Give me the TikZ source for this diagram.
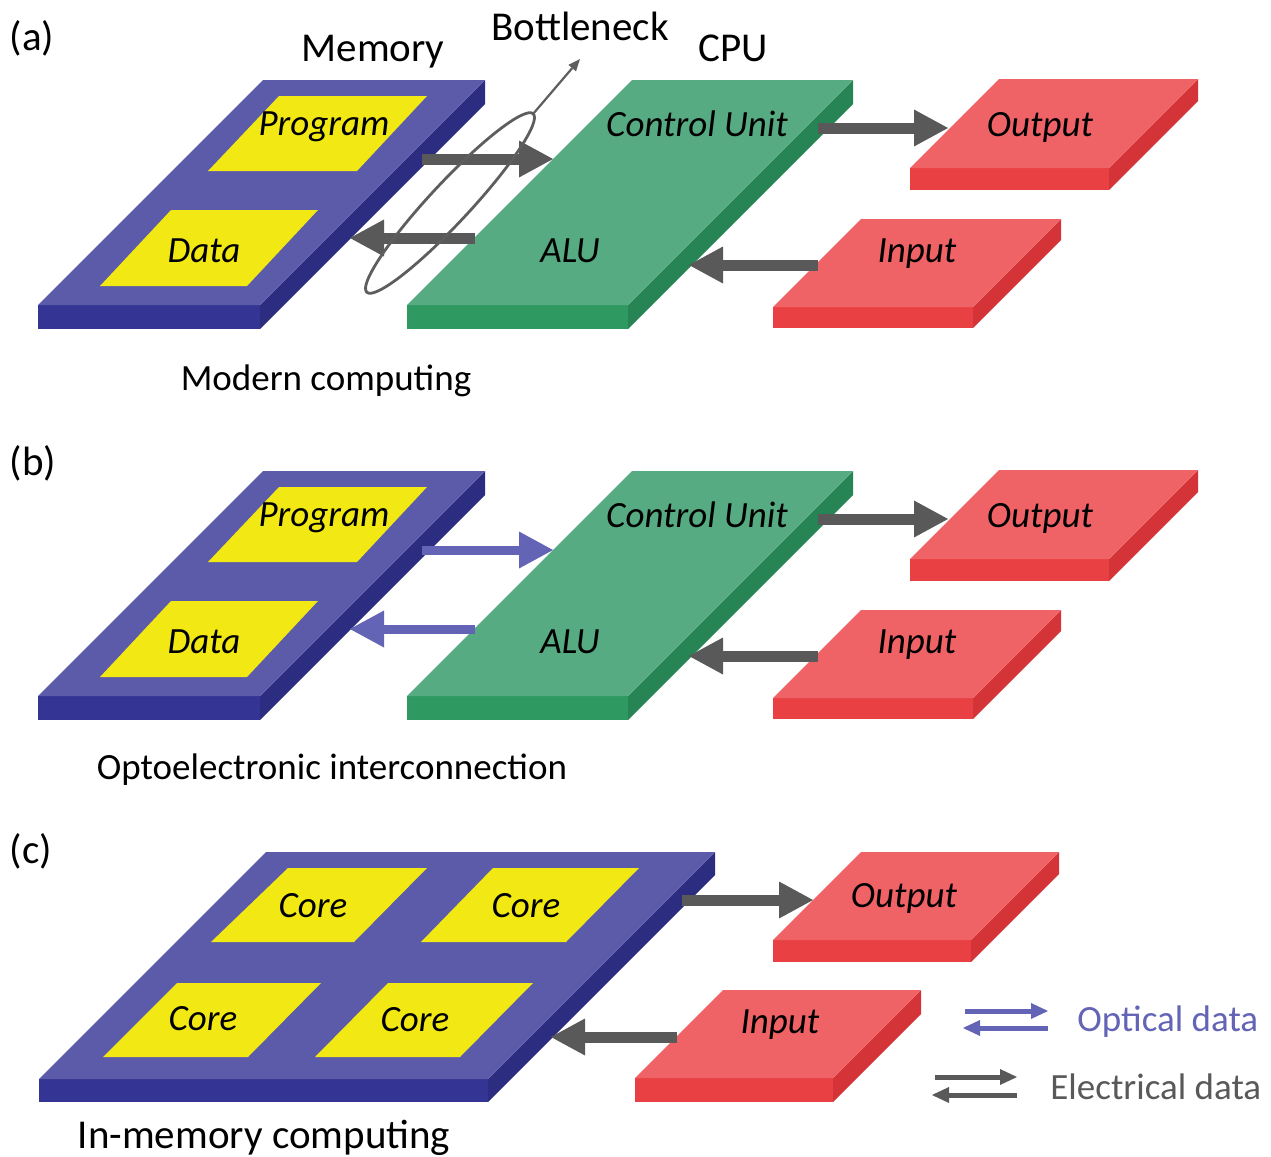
\documentclass[tikz,border=0pt]{standalone}
\usepackage{fontspec}
\setmainfont{Carlito}
\usetikzlibrary{arrows.meta}

\definecolor{memtop}{HTML}{5B5BA9}
\definecolor{memfront}{HTML}{343494}
\definecolor{memside}{HTML}{2C2C80}
\definecolor{padyellow}{HTML}{F2E914}
\definecolor{cputop}{HTML}{56AB82}
\definecolor{cpufront}{HTML}{2E9A62}
\definecolor{cpuside}{HTML}{268455}
\definecolor{iotop}{HTML}{EF6266}
\definecolor{iofront}{HTML}{E94043}
\definecolor{ioside}{HTML}{D43337}
\definecolor{elecgray}{HTML}{595959}
\definecolor{optblue}{HTML}{6464B6}
\definecolor{ringgray}{HTML}{5E5E5E}

\tikzset{
  lbl/.style={font=\fontsize{18.5}{22}\selectfont\itshape, anchor=base, inner sep=0pt},
  undertext/.style={font=\fontsize{18.5}{22}\selectfont, anchor=base, inner sep=0pt},
  heading/.style={font=\fontsize{20.5}{24}\selectfont, anchor=base, inner sep=0pt},
  tag/.style={font=\fontsize{20.5}{24}\selectfont, anchor=center, inner sep=0pt},
  bigarrow/.style={line width=5.5pt, -{Triangle[length=17pt,width=18.5pt,line width=0pt]}},
  elec/.style={bigarrow, color=elecgray},
  opt/.style={bigarrow, line width=4.5pt, color=optblue},
  smallarrow/.style={line width=2.5pt, -{Triangle[length=8.5pt,width=8pt,line width=0pt]}},
  elecsmall/.style={smallarrow, color=elecgray},
  optsmall/.style={smallarrow, color=optblue},
  ring/.style={draw=ringgray, line width=1.4pt},
}

% slab: front-left corner of the top face (#1,#2), width #3, depth #4,
% thickness #5, colour prefix #6 (top / front / side shades)
\newcommand\slab[6]{%
  \fill[#6front] (#1,#2) rectangle ++(#3,#5);
  \fill[#6side] (#1+#3,#2) -- ++(#4,-#4) -- ++(0,#5) -- ++(-#4,#4) -- cycle;
  \fill[#6top] (#1,#2) -- ++(#3,0) -- ++(#4,-#4) -- ++(-#3,0) -- cycle;
}

% yellow pad on a slab, given by its four corners
\newcommand\pad[8]{%
  \fill[padyellow] (#1,#2) -- (#3,#4) -- (#5,#6) -- (#7,#8) -- cycle;
}

% von Neumann layout: #1 name prefix, #2 vertical offset, #3 memory link style
\newcommand\vnpanel[3]{%
\begin{scope}[shift={(0,#2)}]
  \slab{38}{305}{222}{225}{24}{mem}
  \pad{208}{171}{357}{171}{427}{96}{279}{96}
  \pad{100}{286}{247}{286}{318}{210}{171}{210}
  \slab{407}{305}{221}{225}{24}{cpu}
  \slab{910}{168}{199}{89}{22}{io}
  \slab{773}{307}{200}{88}{21}{io}
  \node[lbl] (#1-prog) at (324,135) {Program};
  \node[lbl] (#1-data) at (204,262) {Data};
  \node[lbl] (#1-cu)   at (697,136) {Control Unit};
  \node[lbl] (#1-alu)  at (570,262) {ALU};
  \node[lbl] (#1-out)  at (1040,136) {Output};
  \node[lbl] (#1-in)   at (917,262) {Input};
  \coordinate (#1-memtx) at (422,159);
  \coordinate (#1-cpurx) at (553,159);
  \coordinate (#1-cputx) at (475,238);
  \coordinate (#1-memrx) at (350,238);
  \coordinate (#1-cuout) at (818,128);
  \coordinate (#1-outrx) at (948,128);
  \coordinate (#1-intx)  at (818,265);
  \coordinate (#1-alurx) at (689,265);
  \draw[#3] (#1-memtx) -- (#1-cpurx);
  \draw[#3] (#1-cputx) -- (#1-memrx);
  \draw[elec] (#1-cuout) -- (#1-outrx);
  \draw[elec] (#1-intx) -- (#1-alurx);
\end{scope}
}

\begin{document}
\begin{tikzpicture}[x=0.5pt,y=-0.5pt]
\useasboundingbox (0,0) rectangle (1271,1157);
\clip (0,0) rectangle (1271,1157);
\fill[white] (0,0) rectangle (1271,1157);

% (a) conventional computer with the memory bottleneck
\node[tag] (tag-a) at (32,38) {(a)};
\vnpanel{a}{0}{elec}
\node[heading] (a-memlabel) at (373,61) {Memory};
\node[heading] (a-cpulabel) at (733,61) {CPU};
\node[heading] (a-bneck) at (580,40) {Bottleneck};
\draw[ring, rotate around={47:(450,203)}] (450,203) ellipse [x radius=61pt, y radius=10pt];
\coordinate (ring-top) at (533,114);
\coordinate (ring-tip) at (580,59);
\draw[ring, line width=1.1pt, -{Triangle[length=6pt,width=5pt,line width=0pt]}] (ring-top) -- (ring-tip);
\node[undertext] (a-caption) at (326,390) {Modern computing};

% (b) optical links between memory and processor
\node[tag] (tag-b) at (33,463) {(b)};
\vnpanel{b}{391}{opt}
\node[undertext] (b-caption) at (332,779) {Optoelectronic interconnection};

% (c) computing inside the memory array
\node[tag] (tag-c) at (31,851) {(c)};
\slab{39}{1079}{449}{227}{23}{mem}
\pad{211}{942}{354}{942}{427}{868}{288}{868}
\pad{421}{942}{566}{942}{639}{868}{493}{868}
\pad{103}{1057}{248}{1057}{321}{983}{177}{983}
\pad{315}{1057}{460}{1057}{533}{983}{388}{983}
\slab{773}{940}{198}{88}{22}{io}
\slab{635}{1078}{198}{88}{24}{io}
\node[lbl] (c-core1) at (313,917) {Core};
\node[lbl] (c-core2) at (526,917) {Core};
\node[lbl] (c-core3) at (203,1030) {Core};
\node[lbl] (c-core4) at (415,1031) {Core};
\node[lbl] (c-out) at (904,907) {Output};
\node[lbl] (c-in) at (780,1033) {Input};
\coordinate (c-memtx) at (682,900);
\coordinate (c-outrx) at (813,900);
\coordinate (c-intx) at (677,1037);
\coordinate (c-memrx) at (551,1037);
\draw[elec] (c-memtx) -- (c-outrx);
\draw[elec] (c-intx) -- (c-memrx);
\node[heading] (c-caption) at (264,1148) {In-memory computing};

% legend
\coordinate (lg-o1a) at (965,1011);
\coordinate (lg-o1b) at (1048,1011);
\coordinate (lg-o2a) at (1048,1028);
\coordinate (lg-o2b) at (963,1028);
\coordinate (lg-e1a) at (935,1077);
\coordinate (lg-e1b) at (1017,1077);
\coordinate (lg-e2a) at (1017,1095);
\coordinate (lg-e2b) at (932,1095);
\draw[optsmall] (lg-o1a) -- (lg-o1b);
\draw[optsmall] (lg-o2a) -- (lg-o2b);
\draw[elecsmall] (lg-e1a) -- (lg-e1b);
\draw[elecsmall] (lg-e2a) -- (lg-e2b);
\node[undertext, anchor=base west, text=optblue] (lg-opt) at (1077,1031) {Optical data};
\node[undertext, anchor=base west, text=elecgray] (lg-elec) at (1050,1099) {Electrical data};
\end{tikzpicture}
\end{document}
